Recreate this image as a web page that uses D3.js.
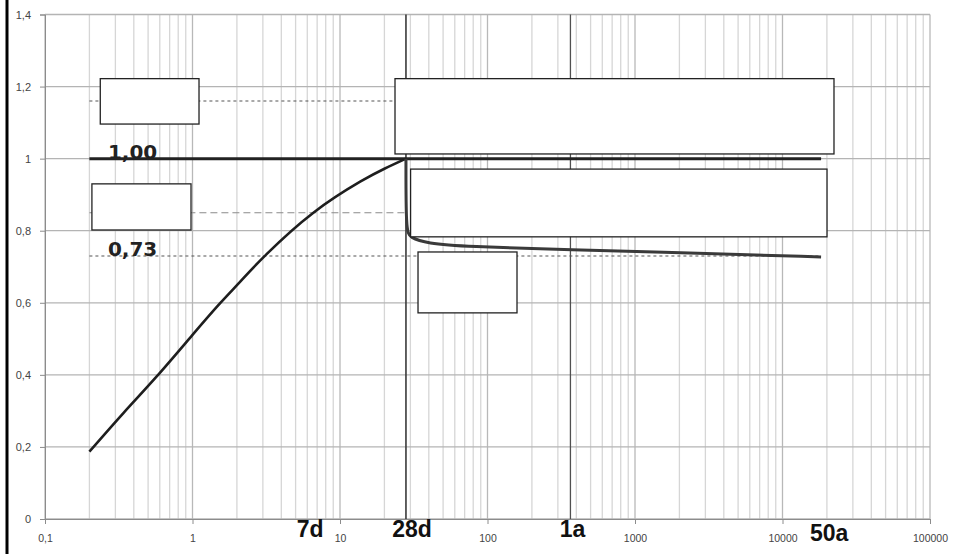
<!DOCTYPE html>
<html>
<head>
<meta charset="utf-8">
<script src="https://cdn.jsdelivr.net/npm/d3@7"></script>
<style>
  html, body { margin: 0; padding: 0; background: #fff; }
  svg { display: block; }
</style>
</head>
<body>
<div id="chart"></div>
<script>
const xTicks = [0.1, 1, 10, 100, 1000, 10000, 100000];
const yTicks = [0, 0.2, 0.4, 0.6, 0.8, 1, 1.2, 1.4];

// strength development up to 28 days (t in days, relative strength)
const gainCurve = [
  [0.2, 0.187], [0.34, 0.294], [0.57, 0.395], [1, 0.511], [1.54, 0.599],
  [2.1, 0.658], [3.18, 0.735], [6.6, 0.85], [13.7, 0.936], [20, 0.972], [28, 1.0]
];
// long term strength after 28 days
const lossCurve = [
  [28, 1.0], [28, 0.80], [29.8, 0.781], [38.7, 0.765], [72, 0.756],
  [344, 0.747], [2754, 0.738], [18262, 0.727]
];

// reference lines: value, from t, to t
const solidLines = [{ v: 1.0, t0: 0.2, t1: 18262 }];
const dashedLines = [
  { v: 1.16, t0: 0.2, t1: 28 },
  { v: 0.85, t0: 0.2, t1: 28 },
  { v: 0.73, t0: 0.2, t1: 18262 }
];
const valueLabels = [
  { text: "1,00", t: 0.267, v: 1.0 },
  { text: "0,73", t: 0.267, v: 0.73 }
];
const ageMarks = [
  { text: "7d", t: 7, line: false },
  { text: "28d", t: 28, line: true },
  { text: "1a", t: 365, line: true },
  { text: "50a", t: 18262, line: false }
];
// empty annotation boxes: t range, v range
const boxes = [
  { t0: 0.237, t1: 1.107, v0: 1.096, v1: 1.222 },
  { t0: 0.208, t1: 0.977, v0: 0.802, v1: 0.930 },
  { t0: 23.6, t1: 22340, v0: 1.013, v1: 1.222 },
  { t0: 30.1, t1: 20030, v0: 0.783, v1: 0.971 },
  { t0: 33.8, t1: 158.5, v0: 0.572, v1: 0.741 }
];

const width = 955;
const height = 554;
const margin = { top: 14.5, right: 25, bottom: 35, left: 45 };

const x = d3.scaleLog()
  .domain([0.1, 100000])
  .range([margin.left, width - margin.right]);

const y = d3.scaleLinear()
  .domain([0, 1.4])
  .range([height - margin.bottom, margin.top]);

const fmt = (d) => String(d).replace(".", ",");

const svg = d3.select("#chart")
  .append("svg")
  .attr("width", width)
  .attr("height", height)
  .attr("font-family", "'Liberation Sans', Arial, sans-serif");

// left black frame edge
svg.append("rect")
  .attr("x", 5.5).attr("y", 0)
  .attr("width", 3).attr("height", height)
  .attr("fill", "#000");

// minor vertical grid
const minor = [];
for (let e = -1; e < 5; e++) {
  for (let k = 2; k <= 9; k++) minor.push(k * Math.pow(10, e));
}
svg.append("g")
  .selectAll("line")
  .data(minor)
  .join("line")
  .attr("x1", (d) => x(d)).attr("x2", (d) => x(d))
  .attr("y1", y(0)).attr("y2", y(1.4))
  .attr("stroke", "#d6d6d6")
  .attr("stroke-width", 1.3);

// major vertical grid
svg.append("g")
  .selectAll("line")
  .data(xTicks)
  .join("line")
  .attr("x1", (d) => x(d)).attr("x2", (d) => x(d))
  .attr("y1", y(0)).attr("y2", y(1.4))
  .attr("stroke", "#b8b8b8")
  .attr("stroke-width", 1.3);

// horizontal grid
svg.append("g")
  .selectAll("line")
  .data(yTicks)
  .join("line")
  .attr("x1", x(0.1)).attr("x2", x(100000))
  .attr("y1", (d) => y(d)).attr("y2", (d) => y(d))
  .attr("stroke", "#b4b4b4")
  .attr("stroke-width", 1.3);

// axes
svg.append("g")
  .attr("transform", `translate(0,${y(0)})`)
  .call(d3.axisBottom(x).tickValues(xTicks).tickSize(5).tickPadding(11)
    .tickFormat((d) => fmt(d)))
  .call((g) => g.select(".domain").attr("stroke", "#8c8c8c"))
  .call((g) => g.selectAll(".tick line").attr("stroke", "#8c8c8c"))
  .call((g) => g.selectAll(".tick text")
    .attr("fill", "#444").attr("font-size", 10.5));

svg.append("g")
  .attr("transform", `translate(${margin.left},0)`)
  .call(d3.axisLeft(y).tickValues(yTicks).tickSize(5).tickPadding(9)
    .tickFormat((d) => fmt(+d.toFixed(1))))
  .call((g) => g.select(".domain").attr("stroke", "#8c8c8c"))
  .call((g) => g.selectAll(".tick line").attr("stroke", "#8c8c8c"))
  .call((g) => g.selectAll(".tick text")
    .attr("fill", "#444").attr("font-size", 11));

// age marker lines (28d, 1a)
svg.append("g")
  .selectAll("line")
  .data(ageMarks.filter((d) => d.line))
  .join("line")
  .attr("x1", (d) => x(d.t)).attr("x2", (d) => x(d.t))
  .attr("y1", y(0)).attr("y2", y(1.4))
  .attr("stroke", (d) => (d.t === 28 ? "#3a3a3a" : "#505050"))
  .attr("stroke-width", (d) => (d.t === 28 ? 1.6 : 1.3));

// dashed reference lines
const dashStyle = (v) =>
  v === 0.85 ? { c: "#8a8a8a", a: "7,4" } : { c: "#555", a: "3,3" };

svg.append("g")
  .selectAll("line")
  .data(dashedLines)
  .join("line")
  .attr("x1", (d) => x(d.t0)).attr("x2", (d) => x(d.t1))
  .attr("y1", (d) => y(d.v)).attr("y2", (d) => y(d.v))
  .attr("stroke", (d) => dashStyle(d.v).c)
  .attr("stroke-width", 1.1)
  .attr("stroke-dasharray", (d) => dashStyle(d.v).a);

// value labels
svg.append("g")
  .selectAll("text")
  .data(valueLabels)
  .join("text")
  .attr("x", (d) => x(d.t))
  .attr("y", (d) => y(d.v))
  .attr("font-family", "'DejaVu Sans', Verdana, sans-serif")
  .attr("font-size", 20)
  .attr("font-weight", "bold")
  .attr("fill", "#222")
  .text((d) => d.text);

// solid reference line
svg.append("g")
  .selectAll("line")
  .data(solidLines)
  .join("line")
  .attr("x1", (d) => x(d.t0)).attr("x2", (d) => x(d.t1))
  .attr("y1", (d) => y(d.v)).attr("y2", (d) => y(d.v))
  .attr("stroke", "#222")
  .attr("stroke-width", 3);

// curves
const line = d3.line()
  .x((d) => x(d[0]))
  .y((d) => y(d[1]));

svg.append("path")
  .attr("d", line.curve(d3.curveNatural)(gainCurve))
  .attr("fill", "none")
  .attr("stroke", "#1e1e1e")
  .attr("stroke-width", 2.6);

svg.append("path")
  .attr("d", line.curve(d3.curveBasis)(lossCurve))
  .attr("fill", "none")
  .attr("stroke", "#3a3a3a")
  .attr("stroke-width", 3);

// annotation boxes
svg.append("g")
  .selectAll("rect")
  .data(boxes)
  .join("rect")
  .attr("x", (d) => x(d.t0))
  .attr("y", (d) => y(d.v1))
  .attr("width", (d) => x(d.t1) - x(d.t0))
  .attr("height", (d) => y(d.v0) - y(d.v1))
  .attr("fill", "#fff")
  .attr("stroke", "#222")
  .attr("stroke-width", 1.3);

// age labels under the axis (small nudges as placed in the original)
const labelNudge = { "7d": -7, "28d": 6, "1a": 2, "50a": 8 };
svg.append("g")
  .selectAll("text")
  .data(ageMarks)
  .join("text")
  .attr("x", (d) => x(d.t) + labelNudge[d.text])
  .attr("y", y(0) + 18)
  .attr("dy", (d) => (d.text === "50a" ? 4 : 0))
  .attr("text-anchor", "middle")
  .attr("font-size", 23)
  .attr("font-weight", "bold")
  .attr("fill", "#111")
  .text((d) => d.text);
</script>
</body>
</html>
